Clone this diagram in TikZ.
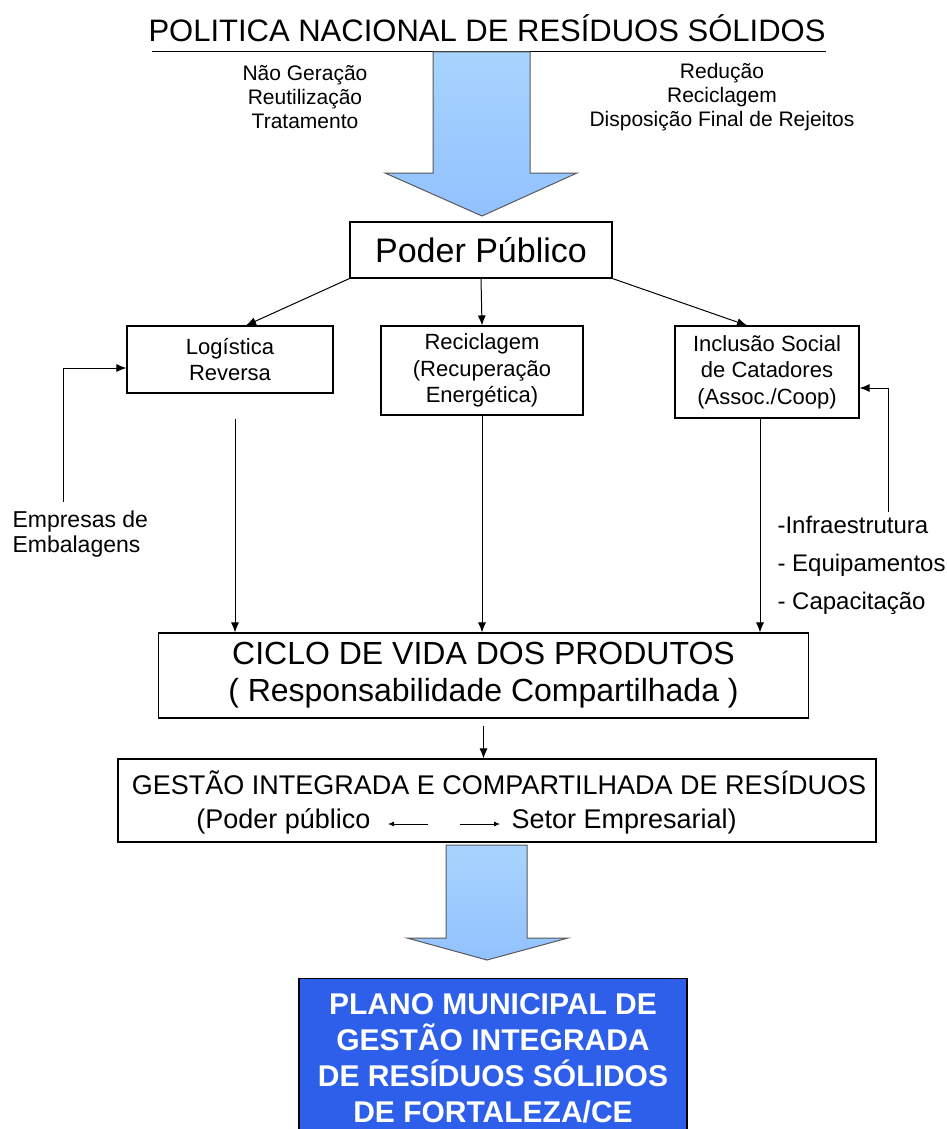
\documentclass[tikz,border=0pt]{standalone}
\usepackage{fontspec}
\setmainfont{Liberation Sans}
\usepackage{tikz}
\usetikzlibrary{positioning,arrows.meta}
\definecolor{setaazul}{RGB}{153,204,255}
\definecolor{planoazul}{RGB}{45,95,235}

\begin{document}
\begin{tikzpicture}[x=1pt,y=-1pt,
		caixa/.style={draw, line width=1.1pt, align=center},
		texto/.style={font=\fontsize{21}{24}\selectfont, align=center},
		textocaixa/.style={font=\fontsize{22}{26.5}\selectfont, align=center},
		seta/.style={-{Latex[length=10pt,width=8pt]}, line width=1pt},
		setinha/.style={-{Latex[length=6pt,width=5pt]}, line width=0.8pt},
		setao/.style={draw=black!65, line width=1pt, top color=setaazul!85!white, bottom color=setaazul!95!blue}]
	\useasboundingbox (0,0) rectangle (947,1129);

	% topo
	\node[font=\fontsize{31}{36}\selectfont] (titulo) at (487,28) {POLITICA NACIONAL DE RESÍDUOS SÓLIDOS};
	\coordinate (linhaesq) at (152,52);
	\coordinate (linhadir) at (826,52);
	\draw[line width=1pt] (linhaesq) -- (linhadir);
	\node[texto] (principios1) at (305,97) {Não Geração\\Reutilização\\Tratamento};
	\node[texto] (principios2) at (722,97) {Redução\\Reciclagem\\Disposição Final de Rejeitos};
	\draw[setao] (433,52) -- (530,52) -- (530,173) -- (577,173) -- (482,216) -- (385,173) -- (433,173) -- cycle;

	% poder publico e eixos
	\node[caixa, minimum width=262, minimum height=56, font=\fontsize{34}{40}\selectfont] (poder) at (481,250) {Poder Público};
	\node[caixa, textocaixa, minimum width=206, minimum height=67] (logistica) at (230,359.5) {Logística\\Reversa};
	\node[caixa, textocaixa, minimum width=202, minimum height=89] (reciclagem) at (482,370.5) {Reciclagem\\(Recuperação\\Energética)};
	\node[caixa, textocaixa, minimum width=184, minimum height=92] (inclusao) at (767,372) {Inclusão Social\\de Catadores\\(Assoc./Coop)};

	\draw[seta] (poder.south west) -- ([shift={(16,0)}]logistica.north);
	\draw[seta] (poder.south) -- (reciclagem.north);
	\draw[seta] (poder.south east) -- ([shift={(-20,0)}]inclusao.north);

	% entradas laterais
	\node[font=\fontsize{23}{25}\selectfont, align=left, anchor=west] (empresas) at (9,534.5) {Empresas de\\Embalagens};
	\draw[seta] ([shift={(54,-6)}]empresas.north west) |- ([shift={(0,8.5)}]logistica.west);
	\node[font=\fontsize{24}{38}\selectfont, align=left, anchor=west] (insumos) at (774,565) {-Infraestrutura\\- Equipamentos\\- Capacitação};
	\draw[seta] ([shift={(114,0)}]insumos.north west) |- ([shift={(0,16)}]inclusao.east);

	% ciclo de vida
	\node[caixa, minimum width=650, minimum height=85, font=\fontsize{32}{37}\selectfont] (ciclo) at (483.5,675.5) {CICLO DE VIDA DOS PRODUTOS\\( Responsabilidade Compartilhada )};
	\draw[seta] ([shift={(5,25)}]logistica.south) -- ([shift={(5,0)}]logistica.south |- ciclo.north);
	\draw[seta] (reciclagem.south) -- (reciclagem.south |- ciclo.north);
	\draw[seta] ([shift={(-7,0)}]inclusao.south) -- ([shift={(-7,0)}]inclusao.south |- ciclo.north);

	% gestao integrada
	\node[caixa, minimum width=758, minimum height=83] (gestao) at (497,800.5) {};
	\node[font=\fontsize{27}{32}\selectfont] (gestaotitulo) at (499,783) {GESTÃO INTEGRADA E COMPARTILHADA DE RESÍDUOS};
	\node[font=\fontsize{27}{32}\selectfont, anchor=base east] (publico) at (374,828) {(Poder público};
	\node[font=\fontsize{27}{32}\selectfont, anchor=base west] (empresarial) at (508,828) {Setor Empresarial)};
	\coordinate (meio) at (444,824);
	\draw[setinha, shorten >=14] ([shift={(-16,0)}]meio) -- (publico.east |- meio);
	\draw[setinha, shorten >=8] ([shift={(16,0)}]meio) -- (empresarial.west |- meio);
	\draw[seta] ([shift={(0,7)}]ciclo.south) -- (ciclo.south |- gestao.north);

	% plano municipal
	\draw[setao] (446,845) -- (527,845) -- (527,938) -- (568,938) -- (487,960) -- (407,938) -- (446,938) -- cycle;
	\node[caixa, fill=planoazul, minimum width=388, minimum height=160, anchor=north, text=white, font=\bfseries\fontsize{30}{36}\selectfont] (plano) at (493,978) {PLANO MUNICIPAL DE\\GESTÃO INTEGRADA\\DE RESÍDUOS SÓLIDOS\\DE FORTALEZA/CE};
\end{tikzpicture}
\end{document}
